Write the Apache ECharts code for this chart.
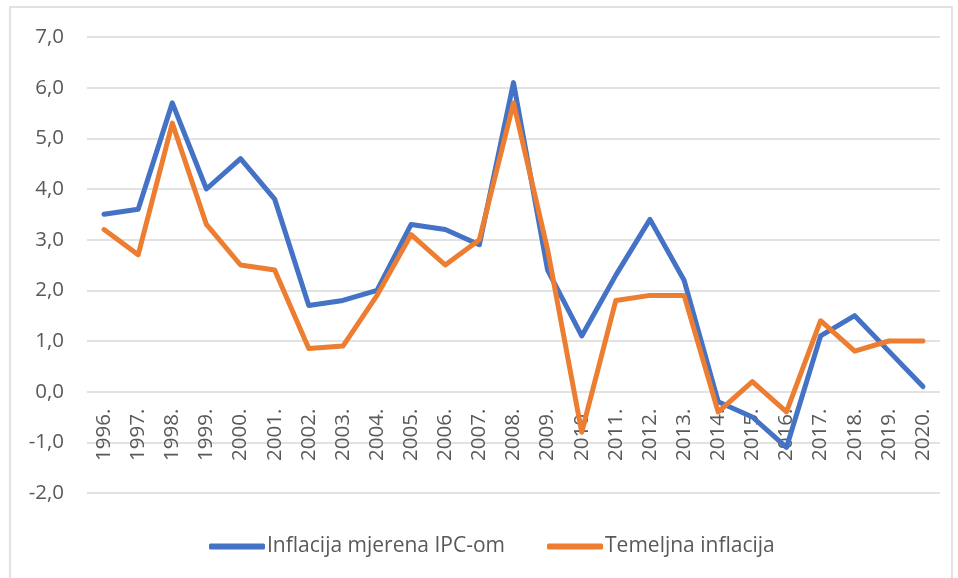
<!DOCTYPE html>
<html>
<head>
<meta charset="utf-8">
<script src="https://cdn.jsdelivr.net/npm/echarts@6/dist/echarts.min.js"></script>
<style>
  html, body { margin: 0; padding: 0; background: #fff; }
  #chart { width: 958px; height: 578px; }
</style>
</head>
<body>
<div id="chart"></div>
<script>
var years = ['1996.', '1997.', '1998.', '1999.', '2000.', '2001.', '2002.', '2003.', '2004.', '2005.',
  '2006.', '2007.', '2008.', '2009.', '2010.', '2011.', '2012.', '2013.', '2014.', '2015.',
  '2016.', '2017.', '2018.', '2019.', '2020.']
var ipc = [3.5, 3.6, 5.7, 4.0, 4.6, 3.8, 1.7, 1.8, 2.0, 3.3,
  3.2, 2.9, 6.1, 2.4, 1.1, 2.3, 3.4, 2.2, -0.2, -0.5,
  -1.1, 1.1, 1.5, 0.8, 0.1]
var temeljna = [3.2, 2.7, 5.3, 3.3, 2.5, 2.4, 0.85, 0.9, 1.9, 3.1,
  2.5, 3.0, 5.7, 2.8, -0.8, 1.8, 1.9, 1.9, -0.4, 0.2,
  -0.4, 1.4, 0.8, 1.0, 1.0]
var seriesNames = ['Inflacija mjerena IPC-om', 'Temeljna inflacija']

var myChart = echarts.init(document.getElementById('chart'))

var font = 'Open Sans'
var lineStyle = function (c) {
  return { width: 5, color: c, cap: 'round', join: 'round' }
}

// x os leži na nuli: 2 jedinice iznad donjeg ruba (456px / 9 jedinica)
var zeroOffset = -456 / 9 * 2

var option = {
  animation: false,
  color: ['#4472C4', '#ED7D31'],
  graphic: [{
    type: 'rect',
    shape: { x: 10, y: 7, width: 942, height: 580 },
    style: { fill: 'none', stroke: '#d9d9d9', lineWidth: 1.5 },
    silent: true
  }],
  grid: { left: 87, right: 18, top: 37, bottom: 85 },
  legend: {
    top: 536,
    left: 209,
    padding: 0,
    itemWidth: 56,
    itemHeight: 6,
    itemGap: 42,
    icon: 'roundRect',
    textStyle: { fontFamily: font, fontSize: 21, color: '#595959', padding: [0, 0, 0, -3] },
    data: seriesNames
  },
  xAxis: {
    type: 'category',
    data: years,
    position: 'bottom',
    offset: zeroOffset,
    axisLine: { show: false, onZero: false },
    axisTick: { show: false },
    axisLabel: {
      rotate: 90,
      margin: 17,
      interval: 0,
      fontFamily: font,
      fontSize: 20.5,
      color: '#595959'
    }
  },
  yAxis: {
    type: 'value',
    min: -2,
    max: 7,
    interval: 1,
    axisLine: { show: false },
    axisTick: { show: false },
    splitLine: { lineStyle: { color: '#d9d9d9', width: 1.5 } },
    axisLabel: {
      margin: 23,
      fontFamily: font,
      fontSize: 20.5,
      color: '#595959',
      formatter: function (v) { return v.toFixed(1).replace('.', ',') }
    }
  },
  series: [
    {
      name: seriesNames[0],
      type: 'line',
      data: ipc,
      symbol: 'none',
      lineStyle: lineStyle('#4472C4')
    },
    {
      name: seriesNames[1],
      type: 'line',
      data: temeljna,
      symbol: 'none',
      lineStyle: lineStyle('#ED7D31')
    }
  ]
}

myChart.setOption(option)
</script>
</body>
</html>
